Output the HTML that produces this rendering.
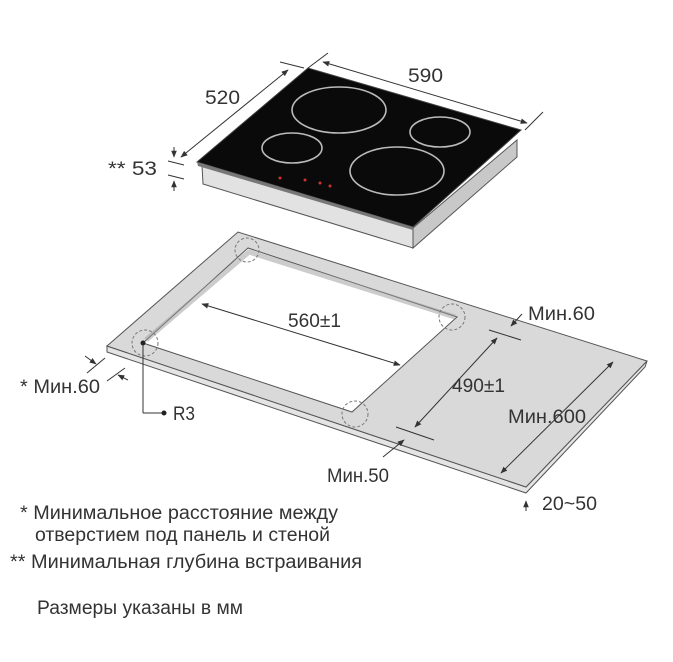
<!DOCTYPE html>
<html><head><meta charset="utf-8"><style>
html,body{margin:0;padding:0;background:#fff;}
svg{display:block}
text{font-family:"Liberation Sans","DejaVu Sans",sans-serif;fill:#333;}
</style></head><body>
<svg width="673" height="662" viewBox="0 0 673 662" xmlns="http://www.w3.org/2000/svg">
<defs>
<marker id="a" viewBox="0 0 10 10" refX="9" refY="5" markerWidth="7" markerHeight="7" orient="auto-start-reverse"><path d="M0,1 L10,5 L0,9 z" fill="#333"/></marker>
</defs>
<!-- countertop -->
<polygon points="107,346 107,352 526,493 645,367 647,361 526,487" fill="#e4e4e4" stroke="#555" stroke-width="1"/>
<polygon points="107,346 238,232 647,361 526,487" fill="#d9d9d9" stroke="#555" stroke-width="1"/>
<polygon points="248,248 143,343 352,412 457,317" fill="#fff" stroke="#555" stroke-width="1"/>
<polyline points="146,340 249,252 455,317" fill="none" stroke="#999" stroke-width="5" opacity="0.5"/>
<g fill="none" stroke="#777" stroke-dasharray="3,2" stroke-width="1">
<circle cx="247" cy="250" r="12"/><circle cx="452" cy="317" r="13"/><circle cx="145" cy="343" r="13"/><circle cx="355" cy="414" r="13"/>
</g>
<!-- cooktop body -->
<polygon points="202,165 413,228 413,248 203,184" fill="#e2e2e2" stroke="#555"/>
<polygon points="413,228 517,140 517,157 413,248" fill="#c8c8c8" stroke="#555"/>
<polygon points="197,162 308,68 521,130 413,227" fill="#0a0a0a" stroke="#444"/>
<polygon points="197,162 413,227 413,230 198,166" fill="#777"/>
<g fill="none" stroke="#bbb" stroke-width="1.6">
<ellipse cx="339" cy="110" rx="47" ry="23"/>
<ellipse cx="292" cy="148" rx="30" ry="15"/>
<ellipse cx="440" cy="132" rx="30" ry="15"/>
<ellipse cx="397" cy="171" rx="47" ry="24"/>
</g>
<g fill="#c33"><circle cx="280" cy="178" r="1.5"/><circle cx="305" cy="180" r="1.5"/><circle cx="320" cy="183" r="1.5"/><circle cx="330" cy="186" r="1.5"/></g>
<!-- cooktop dims -->
<g stroke="#333" stroke-width="1" fill="none">
<line x1="181" y1="157" x2="288" y2="70" marker-start="url(#a)" marker-end="url(#a)"/>
<line x1="280" y1="62" x2="304" y2="68"/>
<line x1="323" y1="62" x2="527" y2="123" marker-start="url(#a)" marker-end="url(#a)"/>
<line x1="308" y1="68" x2="328" y2="53"/>
<line x1="525" y1="130" x2="543" y2="112"/>
<line x1="168" y1="161" x2="184" y2="165"/><line x1="168" y1="175" x2="184" y2="179"/>
<line x1="174" y1="147" x2="174" y2="157" marker-end="url(#a)"/><line x1="174" y1="191" x2="174" y2="181" marker-end="url(#a)"/>
<!-- countertop dims -->
<line x1="202" y1="304" x2="400" y2="365" marker-start="url(#a)" marker-end="url(#a)"/>
<line x1="497" y1="338" x2="415" y2="427" marker-start="url(#a)" marker-end="url(#a)"/>
<line x1="613" y1="362" x2="501" y2="473" marker-start="url(#a)" marker-end="url(#a)"/>
<line x1="489" y1="330" x2="521" y2="340"/>
<line x1="396" y1="427" x2="434" y2="440"/>
<line x1="522" y1="314" x2="511" y2="326" marker-end="url(#a)"/>
<line x1="383" y1="457" x2="404" y2="440" marker-end="url(#a)"/>
<line x1="143" y1="343" x2="143" y2="413"/><line x1="143" y1="413" x2="164" y2="413"/>
<line x1="87" y1="373" x2="105" y2="358"/><line x1="107" y1="381" x2="125" y2="368"/>
<line x1="85" y1="356" x2="96" y2="364" marker-end="url(#a)"/><line x1="128" y1="380" x2="118" y2="375" marker-end="url(#a)"/>
<line x1="526" y1="511" x2="526" y2="501" marker-end="url(#a)"/>
</g>
<circle cx="143" cy="343" r="2.5" fill="#222"/><circle cx="164" cy="413" r="2.5" fill="#222"/>
<g font-size="19">
<text x="205" y="104" textLength="35" lengthAdjust="spacingAndGlyphs">520</text>
<text x="408" y="82" textLength="35" lengthAdjust="spacingAndGlyphs">590</text>
<text x="108" y="175" textLength="49" lengthAdjust="spacingAndGlyphs">** 53</text>
<text x="288" y="327" textLength="53" lengthAdjust="spacingAndGlyphs">560±1</text>
<text x="452" y="392" textLength="53" lengthAdjust="spacingAndGlyphs">490±1</text>
<text x="508" y="423" textLength="78" lengthAdjust="spacingAndGlyphs">Мин.600</text>
<text x="528" y="320" textLength="67" lengthAdjust="spacingAndGlyphs">Мин.60</text>
<text x="327" y="482" textLength="62" lengthAdjust="spacingAndGlyphs">Мин.50</text>
<text x="20" y="393" textLength="80" lengthAdjust="spacingAndGlyphs">* Мин.60</text>
<text x="173" y="420" textLength="22" lengthAdjust="spacingAndGlyphs">R3</text>
<text x="542" y="510" textLength="55" lengthAdjust="spacingAndGlyphs">20~50</text>
<text x="20" y="519" textLength="318" lengthAdjust="spacingAndGlyphs">* Минимальное расстояние между</text>
<text x="35" y="541" textLength="295" lengthAdjust="spacingAndGlyphs">отверстием под панель и стеной</text>
<text x="10" y="568" textLength="352" lengthAdjust="spacingAndGlyphs">** Минимальная глубина встраивания</text>
<text x="37" y="614" textLength="206" lengthAdjust="spacingAndGlyphs">Размеры указаны в мм</text>
</g>
</svg>
</body></html>
